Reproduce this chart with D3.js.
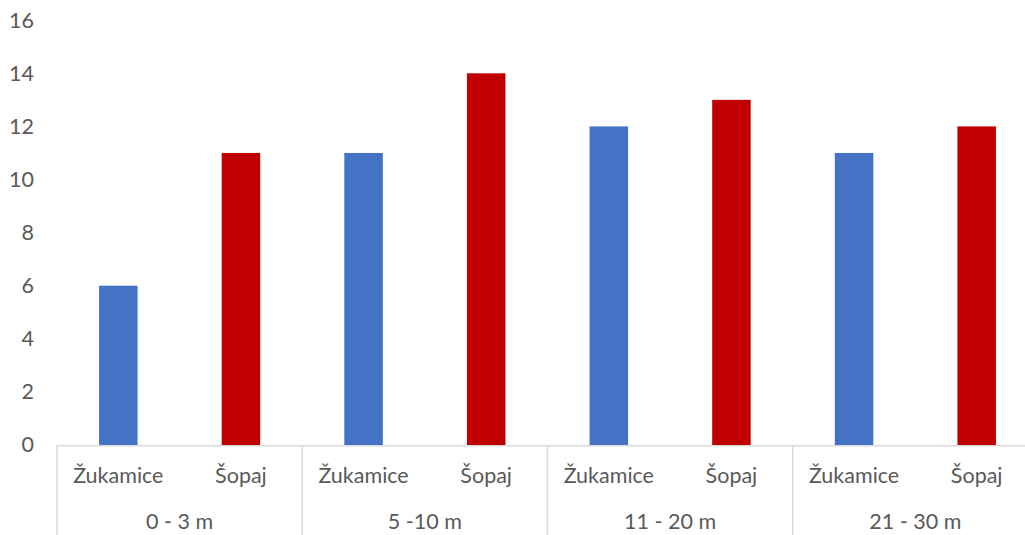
<!DOCTYPE html>
<html>
<head>
<meta charset="utf-8">
<script src="https://cdn.jsdelivr.net/npm/d3@7"></script>
<style>
  html, body { margin: 0; padding: 0; background: #fff; }
  svg { display: block; }
  text { font-family: Lato, "Open Sans", sans-serif; fill: #595959; }
</style>
</head>
<body>
<svg id="chart" width="1025" height="535"></svg>
<script>
// Depth ranges (outer category level)
const depthGroups = ["0 - 3 m", "5 -10 m", "11 - 20 m", "21 - 30 m"];
// Sites (inner category level)
const sites = ["Žukamice", "Šopaj"];
// Counts per depth range
const zukamiceValues = [6, 11, 12, 11];
const sopajValues = [11, 14, 13, 12];
// Y-axis ticks
const yTicks = [0, 2, 4, 6, 8, 10, 12, 14, 16];

const siteColors = { "Žukamice": "#4472C4", "Šopaj": "#C00000" };
const seriesBySite = { "Žukamice": zukamiceValues, "Šopaj": sopajValues };
const FS = 21.5;

const svg = d3.select("#chart");
const W = 1025, H = 535;
const plot = { left: 57, right: 1038, top: 20.2, bottom: 445 };

const x0 = d3.scaleBand().domain(depthGroups).range([plot.left, plot.right]).paddingInner(0).paddingOuter(0);
const x1 = d3.scaleBand().domain(sites).range([0, x0.bandwidth()]).paddingInner(0.686).paddingOuter(0.343);
const y = d3.scaleLinear().domain([0, 16]).range([plot.bottom, plot.top]);

const rows = depthGroups.map((g, i) => ({
  group: g,
  bars: sites.map(s => ({ site: s, value: seriesBySite[s][i] }))
}));

// Bars
const gGroups = svg.append("g").selectAll("g").data(rows).join("g")
  .attr("transform", d => `translate(${x0(d.group)},0)`);
gGroups.selectAll("rect").data(d => d.bars).join("rect")
  .attr("x", d => x1(d.site))
  .attr("width", x1.bandwidth())
  .attr("y", d => y(d.value))
  .attr("height", d => y(0) - y(d.value))
  .attr("fill", d => siteColors[d.site]);

// Y axis labels (no axis line, no gridlines)
const yAxis = d3.axisLeft(y).tickValues(yTicks).tickSize(0).tickPadding(0).tickFormat(d3.format("d"));
const yg = svg.append("g").attr("transform", "translate(34,0)").call(yAxis);
yg.select(".domain").remove();
yg.selectAll("text").attr("font-size", FS).attr("fill", "#595959")
  .style("font-family", "Lato, 'Open Sans', sans-serif");

// Category axis line
svg.append("line")
  .attr("x1", plot.left).attr("x2", W)
  .attr("y1", y(0) + 0.75).attr("y2", y(0) + 0.75)
  .attr("stroke", "#d9d9d9").attr("stroke-width", 1.5);

// Group separators
const bounds = depthGroups.map(g => x0(g)).concat([plot.right]);
svg.append("g").selectAll("line").data(bounds).join("line")
  .attr("x1", d => d).attr("x2", d => d)
  .attr("y1", y(0)).attr("y2", H)
  .attr("stroke", "#d9d9d9").attr("stroke-width", 1.5);

// Inner labels (site names)
gGroups.selectAll("text.site").data(d => d.bars).join("text")
  .attr("class", "site")
  .attr("x", d => x1(d.site) + x1.bandwidth() / 2)
  .attr("y", 483)
  .attr("text-anchor", "middle")
  .attr("font-size", FS)
  .text(d => d.site);

// Outer labels (depth ranges)
gGroups.append("text")
  .attr("x", x0.bandwidth() / 2)
  .attr("y", 529)
  .attr("text-anchor", "middle")
  .attr("font-size", FS)
  .text(d => d.group);
</script>
</body>
</html>
